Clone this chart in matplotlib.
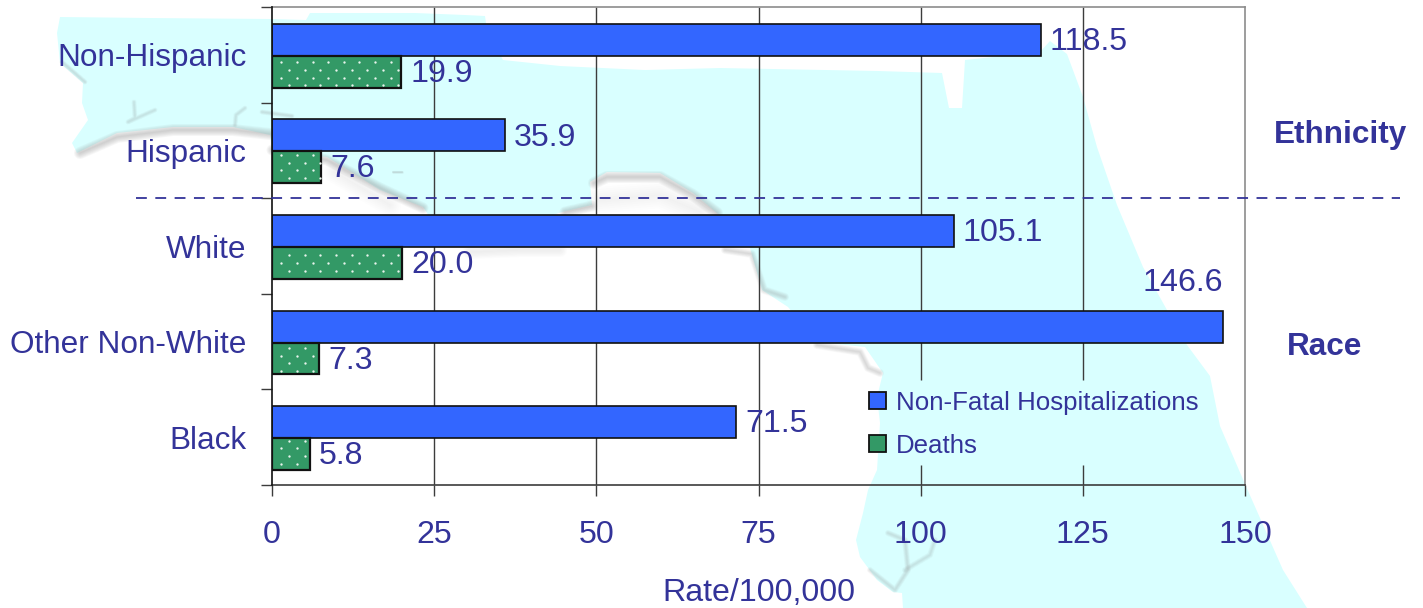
import numpy as np
import matplotlib
matplotlib.use("Agg")
import matplotlib.pyplot as plt
from matplotlib.patches import Patch, Polygon
from matplotlib.lines import Line2D

plt.rcParams['font.family'] = ['Liberation Sans', 'DejaVu Sans']

categories = ["Non-Hispanic", "Hispanic", "White", "Other Non-White", "Black"]
hospitalizations = [118.5, 35.9, 105.1, 146.6, 71.5]
deaths = [19.9, 7.6, 20.0, 7.3, 5.8]
x_ticks = [0, 25, 50, 75, 100, 125, 150]
legend_labels = ["Non-Fatal Hospitalizations", "Deaths"]

W, H = 1423, 608
L, R, T, B = 272, 1245, 7, 485
TEXT = "#333399"
BLUE = "#3366FF"
GREEN = "#339966"
CYAN = "#D9FFFF"
FS = 22.7
FS_VAL = 23.1

fig = plt.figure(figsize=(W / 100, H / 100), dpi=100, facecolor="white")

# Background map of Florida, in pixel space
bg = fig.add_axes([0, 0, 1, 1], zorder=0)
bg.set_xlim(0, W)
bg.set_ylim(H, 0)
bg.axis("off")
florida = [(60, 17), (150, 18), (272, 19), (306, 20), (310, 13), (415, 13), (465, 15), (485, 16),
           (487, 30), (503, 60), (560, 66), (645, 70), (720, 68), (878, 71), (942, 73), (949, 108),
           (962, 108), (965, 60), (1040, 52), (1050, 41), (1067, 54), (1083, 97), (1097, 147),
           (1117, 205), (1143, 267), (1167, 310), (1187, 345), (1210, 376), (1220, 426), (1245, 484),
           (1283, 570), (1307, 608), (903, 608), (902, 593), (893, 592), (877, 580), (860, 557),
           (856, 540), (863, 513), (868, 490), (877, 470), (880, 423), (877, 397), (883, 373),
           (865, 347), (817, 342), (788, 307), (762, 290), (750, 248), (717, 213), (693, 193),
           (660, 173), (607, 172), (590, 182), (592, 205), (562, 212), (480, 240), (435, 225),
           (423, 207), (380, 190), (327, 157), (272, 150), (270, 135), (233, 127), (173, 127),
           (117, 133), (77, 153), (72, 143), (88, 120), (82, 103), (83, 83), (60, 63), (57, 33)]
bg.add_patch(Polygon(florida, closed=True, fc=CYAN, ec="none"))


def coast(points, width=8, color="#8f8f8f", alpha=0.07, layers=7):
    xs, ys = zip(*points)
    for w in np.linspace(width, 1, layers):
        bg.plot(xs, ys, color=color, lw=w * 0.72, alpha=alpha, solid_capstyle="round", solid_joinstyle="round")


# Main coast shading
coast([(80, 153), (117, 137), (173, 130), (233, 130), (270, 134)], 12)
coast([(272, 150), (327, 160), (380, 188), (423, 208)], 11)
coast([(335, 172), (390, 205)], 22, "#d0d0d0", 0.04)
coast([(565, 212), (592, 206)], 11)
coast([(594, 183), (607, 177), (660, 177), (693, 195), (717, 213)], 12)
coast([(600, 200), (660, 195), (700, 212)], 26, "#d8d8d8", 0.05)
coast([(470, 252), (520, 250), (560, 250)], 14, "#d0d0d0", 0.05)
coast([(725, 250), (752, 254), (764, 290), (785, 297)], 8, alpha=0.05)
coast([(817, 345), (860, 352), (868, 368), (880, 373)], 8, alpha=0.05)
coast([(62, 62), (85, 82)], 5, alpha=0.04)
# Small inlets and islands
coast([(134, 102), (135, 118), (128, 122), (155, 110)], 5, alpha=0.035)
coast([(235, 125), (236, 115), (245, 108)], 5, alpha=0.035)
coast([(262, 112), (292, 116)], 5, alpha=0.04)
coast([(888, 533), (905, 540), (908, 570), (895, 590), (870, 570)], 6, alpha=0.04)
coast([(905, 570), (930, 555), (935, 540)], 6, alpha=0.035)
coast([(393, 172), (402, 172)], 3, alpha=0.05)

# Main chart
ax = fig.add_axes([L / W, 1 - B / H, (R - L) / W, (B - T) / H], zorder=1)
ax.patch.set_alpha(0)
ax.set_xlim(x_ticks[0], x_ticks[-1])
ax.set_ylim(len(categories) - 0.5, -0.5)

y = np.arange(len(categories)) + 0.01
bar_h = 1 / 3

# Gridlines, interrupted where the legend sits
legend_gap = (3.40, 4.29)
for tick in x_ticks[1:-1]:
    if tick >= 100:
        ax.vlines(tick, -0.5, legend_gap[0], color="#3c3c3c", lw=1, zorder=1)
        ax.vlines(tick, legend_gap[1], len(categories) - 0.5, color="#3c3c3c", lw=1, zorder=1)
    else:
        ax.vlines(tick, -0.5, len(categories) - 0.5, color="#3c3c3c", lw=1, zorder=1)

ax.barh(y - bar_h / 2, hospitalizations, height=bar_h, color=BLUE, edgecolor="#111111", lw=1.2, zorder=3)
ax.barh(y + bar_h / 2, deaths, height=bar_h, color=GREEN, edgecolor="#111111", lw=1.6, zorder=3)

# White dotted fill pattern of the Deaths bars
px_x = (R - L) / (x_ticks[-1] - x_ticks[0])
px_y = (B - T) / len(categories)
step_x, step_y = 15.6 / px_x, 7.72 / px_y
row0 = (62.3 - T) / px_y - 0.5
col0 = (281.3 - L) / px_x
for i, d in enumerate(deaths):
    top, bottom = y[i], y[i] + bar_h
    for r in range(-1, 70):
        ry = row0 + r * step_y
        if top + 0.01 < ry < bottom - 0.01:
            xs = np.arange(col0 + (r % 2) * step_x / 2, d - 0.15, step_x)
            ax.plot(xs, np.full_like(xs, ry), ls="none", marker="o", ms=1.7, mfc="#e8f4ec", mec="none", zorder=4)

# Value labels
for i, v in enumerate(hospitalizations):
    if v > 140:
        ax.annotate(f"{v:.1f}", (v, y[i] - bar_h), xytext=(0, 9), textcoords="offset points",
                    ha="right", va="bottom", color=TEXT, fontsize=FS_VAL, zorder=5)
    else:
        ax.annotate(f"{v:.1f}", (v, y[i] - bar_h / 2), xytext=(6.6, -1.5), textcoords="offset points",
                    ha="left", va="center", color=TEXT, fontsize=FS_VAL, zorder=5)
for i, v in enumerate(deaths):
    ax.annotate(f"{v:.1f}", (v, y[i] + bar_h / 2), xytext=(6.6, -1.5), textcoords="offset points",
                ha="left", va="center", color=TEXT, fontsize=FS_VAL, zorder=5)

# Axes
ax.set_xticks(x_ticks)
ax.set_xticklabels([str(t) for t in x_ticks], color=TEXT, fontsize=FS_VAL)
ax.tick_params(axis="x", length=8, width=1, color="#3c3c3c", pad=17.5)
ax.set_yticks(np.arange(len(categories)))
ax.set_yticklabels(categories, color=TEXT, fontsize=FS)
ax.tick_params(axis="y", which="major", length=0, pad=18.3)
ax.set_yticks(np.arange(len(categories) + 1) - 0.5, minor=True)
ax.tick_params(axis="y", which="minor", length=8, width=1, color="#3c3c3c")
ax.spines["left"].set_color("#111111")
ax.spines["bottom"].set_color("#3c3c3c")
ax.spines["top"].set_color("#8c8c8c")
ax.spines["right"].set_color("#8c8c8c")
for s in ax.spines.values():
    s.set_linewidth(1.2)
    s.set_zorder(2)
ax.spines["left"].set_zorder(5)

# Legend
handles = [Patch(fc=BLUE, ec="#111111", lw=1.3), Patch(fc=GREEN, ec="#111111", lw=1.3)]
leg = ax.legend(handles, legend_labels, loc="upper left", bbox_to_anchor=(869 / W, 1 - 391 / H),
                bbox_transform=fig.transFigure, frameon=False, fontsize=18.6, labelcolor=TEXT,
                handlelength=0.64, handleheight=0.64, handletextpad=0.4, labelspacing=0.72,
                borderpad=0, borderaxespad=0)
leg.set_zorder(6)

# Annotations outside the bars
fig.add_artist(Line2D([136 / W, 1400 / W], [1 - 198 / H] * 2, color=TEXT, lw=1.3,
                      dashes=(6, 4.7), zorder=5))
fig.text(759 / W, 1 - 593 / H, "Rate/100,000", ha="center", va="center", color=TEXT, fontsize=FS_VAL, zorder=5)
fig.text(1340 / W, 1 - 135 / H, "Ethnicity", ha="center", va="center", color=TEXT, fontsize=FS,
         fontweight="bold", zorder=5)
fig.text(1325 / W, 1 - 347 / H, "Race", ha="center", va="center", color=TEXT, fontsize=FS,
         fontweight="bold", zorder=5)

fig.savefig("out.png", dpi=100, facecolor="white")
